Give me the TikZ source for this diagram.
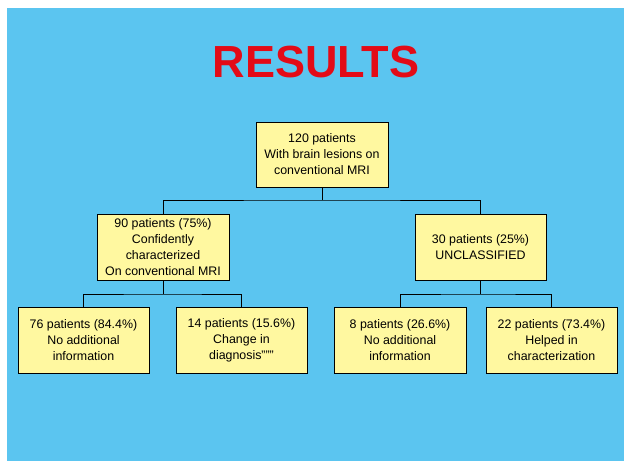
\documentclass[tikz,border=0pt]{standalone}
\usepackage{fontspec}
\setmainfont{Liberation Sans}
\definecolor{bgblue}{HTML}{5BC5F0}
\definecolor{boxyellow}{HTML}{FFF8A0}
\definecolor{titlered}{HTML}{E30B17}
\begin{document}
\begin{tikzpicture}[x=1pt,y=-1pt,
  resbox/.style={draw=black,line width=0.8pt,fill=boxyellow,minimum height=66pt,
    align=center,inner sep=0pt,font=\fontsize{12.4}{16}\selectfont},
  link/.style={draw=black,line width=0.9pt}]
\useasboundingbox (0,0) rectangle (624,461);
\fill[white] (0,0) rectangle (624,461);
\fill[bgblue] (7,8) rectangle (624,461);
\node[anchor=base,text=titlered,font=\fontsize{45}{50}\selectfont\bfseries] (title) at (316,77) {RESULTS};
\node[resbox,minimum width=132pt,minimum height=65pt] (top) at (322,154.5) {120 patients\\With brain lesions on\\conventional MRI};
\node[resbox,minimum width=132pt] (ml) at (163,247) {90 patients (75\%)\\Confidently\\characterized\\On conventional MRI};
\node[resbox,minimum width=131pt] (mr) at (480.5,247) {30 patients (25\%)\\UNCLASSIFIED};
\node[resbox,minimum width=131pt] (ll) at (83.5,340) {76 patients (84.4\%)\\No additional\\information};
\node[resbox,minimum width=131pt] (lr) at (241.5,340) {14 patients (15.6\%)\\Change in\\diagnosis"""};
\node[resbox,minimum width=132pt] (rl) at (400,340) {8 patients (26.6\%)\\No additional\\information};
\node[resbox,minimum width=131pt] (rr) at (551.5,340) {22 patients (73.4\%)\\Helped in\\characterization};
\coordinate (j1) at (322,200);
\coordinate (j2) at (163,294);
\coordinate (j3) at (480.5,294);
\draw[link] (top.south) -- (j1);
\draw[link] (ml.north) |- (j1) -| (mr.north);
\draw[link] (ml.south) -- (j2);
\draw[link] (ll.north) |- (j2) -| (lr.north);
\draw[link] (mr.south) -- (j3);
\draw[link] (rl.north) |- (j3) -| (rr.north);
\end{tikzpicture}
\end{document}
